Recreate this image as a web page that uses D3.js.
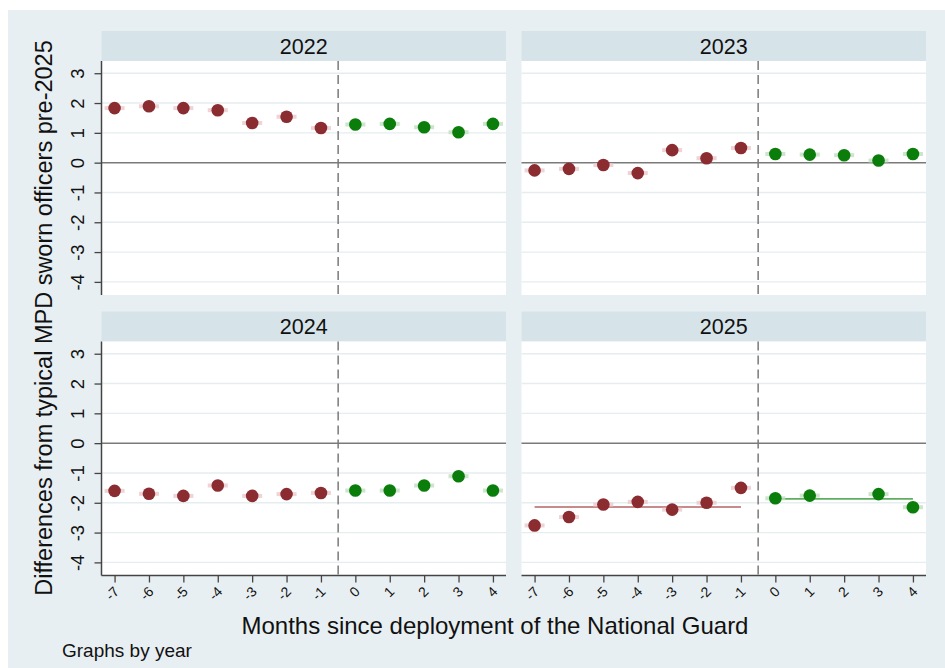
<!DOCTYPE html>
<html>
<head>
<meta charset="utf-8">
<script src="https://cdn.jsdelivr.net/npm/d3@7"></script>
<style>
  html, body { margin: 0; padding: 0; background: #ffffff; }
  svg { display: block; font-family: "Liberation Sans", Arial, Helvetica, sans-serif; }
</style>
</head>
<body>
<svg id="chart" width="945" height="668"></svg>
<script>
// Months relative to deployment of the National Guard
const months = [-7, -6, -5, -4, -3, -2, -1, 0, 1, 2, 3, 4];
const years = ["2022", "2023", "2024", "2025"];

// Differences from typical MPD sworn officers pre-2025, by year (null = no observation)
const values2022 = [1.83, 1.89, 1.83, 1.76, 1.33, 1.54, 1.16, 1.28, 1.30, 1.19, 1.02, 1.30];
const values2023 = [-0.26, -0.21, -0.08, -0.35, 0.42, 0.15, 0.49, 0.29, 0.27, 0.25, 0.07, 0.29];
const values2024 = [-1.60, -1.70, -1.77, -1.42, -1.77, -1.71, -1.67, -1.59, -1.59, -1.42, -1.11, -1.59];
const values2025 = [-2.76, -2.48, -2.06, -1.97, -2.23, -2.00, -1.50, -1.85, -1.76, null, -1.71, -2.15];
const seriesByYear = [values2022, values2023, values2024, values2025];

const yTicks = [3, 2, 1, 0, -1, -2, -3, -4];
const yTickLabels = ["3", "2", "1", "0", "-1", "-2", "-3", "-4"];
const xTickLabels = ["-7", "-6", "-5", "-4", "-3", "-2", "-1", "0", "1", "2", "3", "4"];
// Only the latest year shows the pre/post period averages
const meanLineYears = ["2025"];

const preColor = "#8b2c31";
const postColor = "#0b7d0b";
const fontFam = "Liberation Sans, Arial, Helvetica, sans-serif";

const svg = d3.select("#chart");

// Outer graph region
svg.append("rect").attr("x", 8).attr("y", 10).attr("width", 937).attr("height", 658)
  .attr("fill", "#e8eff2");

const panelW = 404.5, plotH = 234, stripH = 30;
const panelX = [101.5, 521.5];
const stripY = [31, 311.5];

const x = d3.scaleLinear().domain([-7.38, 4.38]).range([0, panelW]);
const y = d3.scaleLinear().domain([-4.44, 3.41]).range([plotH, 0]);

years.forEach((yr, i) => {
  const col = i % 2, row = Math.floor(i / 2);
  const left = panelX[col];
  const top = stripY[row];
  const g = svg.append("g").attr("transform", `translate(${left},${top})`);

  // strip header
  g.append("rect").attr("x", 0).attr("y", 0).attr("width", panelW).attr("height", stripH)
    .attr("fill", "#d6e3e9");
  g.append("text").attr("x", panelW / 2).attr("y", stripH / 2 + 7.5)
    .attr("text-anchor", "middle").attr("font-size", 21.5).attr("fill", "#111")
    .text(yr);

  const p = g.append("g").attr("transform", `translate(0,${stripH})`);
  p.append("rect").attr("width", panelW).attr("height", plotH).attr("fill", "#ffffff");

  // horizontal grid
  p.selectAll("line.grid").data(yTicks.filter(t => t !== 0)).join("line")
    .attr("class", "grid")
    .attr("x1", 0).attr("x2", panelW)
    .attr("y1", d => y(d)).attr("y2", d => y(d))
    .attr("stroke", "#e6edf0").attr("stroke-width", 1.4);

  // zero reference line
  p.append("line").attr("x1", 0).attr("x2", panelW)
    .attr("y1", y(0)).attr("y2", y(0))
    .attr("stroke", "#7a7a7a").attr("stroke-width", 1.5);

  // deployment marker
  p.append("line").attr("x1", x(-0.5)).attr("x2", x(-0.5))
    .attr("y1", 0).attr("y2", plotH)
    .attr("stroke", "#7a7a7a").attr("stroke-width", 1.5)
    .attr("stroke-dasharray", "9,5");

  const pts = months.map((m, j) => ({ m, v: seriesByYear[i][j] })).filter(d => d.v !== null);

  // period averages
  if (meanLineYears.includes(yr)) {
    const pre = pts.filter(d => d.m < 0), post = pts.filter(d => d.m >= 0);
    const segs = [
      { data: pre, c: "#c98a8d" },
      { data: post, c: "#5fae5f" }
    ];
    segs.forEach(s => {
      const mean = d3.mean(s.data, d => d.v);
      p.append("line")
        .attr("x1", x(d3.min(s.data, d => d.m))).attr("x2", x(d3.max(s.data, d => d.m)))
        .attr("y1", y(mean)).attr("y2", y(mean))
        .attr("stroke", s.c).attr("stroke-width", 1.8);
    });
  }

  // faint halos behind the markers
  p.selectAll("line.halo").data(pts).join("line")
    .attr("class", "halo")
    .attr("x1", d => x(d.m) - 10).attr("x2", d => x(d.m) + 10)
    .attr("y1", d => y(d.v)).attr("y2", d => y(d.v))
    .attr("stroke", d => d.m < 0 ? "#ecc9cc" : "#bfe0bf")
    .attr("stroke-width", 4).attr("opacity", 0.8);

  p.selectAll("circle.pt").data(pts).join("circle")
    .attr("class", "pt")
    .attr("cx", d => x(d.m)).attr("cy", d => y(d.v)).attr("r", 6.3)
    .attr("fill", d => d.m < 0 ? preColor : postColor);

  // y axis on left column
  if (col === 0) {
    const ya = d3.axisLeft(y).tickValues(yTicks).tickSize(7).tickPadding(0)
      .tickFormat((d, k) => yTickLabels[k]);
    const ag = p.append("g").call(ya);
    ag.attr("font-family", fontFam);
    ag.select(".domain").attr("stroke", "#444").attr("stroke-width", 1.5)
      .attr("d", `M0,0V${plotH}`);
    ag.selectAll(".tick line").attr("stroke", "#444").attr("stroke-width", 1.3);
    ag.selectAll(".tick text")
      .attr("font-size", 18.5).attr("fill", "#111")
      .attr("x", 0).attr("y", 0).attr("dy", "0.35em")
      .attr("text-anchor", "middle")
      .attr("transform", "translate(-24,0) rotate(-90)");
  }

  // x axis on bottom row
  if (row === 1) {
    const xa = d3.axisBottom(x).tickValues(months).tickSize(7).tickFormat((d, k) => xTickLabels[k]);
    const ag = p.append("g").attr("transform", `translate(0,${plotH})`).call(xa);
    ag.attr("font-family", fontFam);
    ag.select(".domain").attr("stroke", "#444").attr("stroke-width", 1.5)
      .attr("d", `M0,0H${panelW}`);
    ag.selectAll(".tick line").attr("stroke", "#444").attr("stroke-width", 1.3);
    ag.selectAll(".tick text")
      .attr("font-size", 14).attr("fill", "#111")
      .attr("y", 0).attr("dy", null)
      .attr("text-anchor", "end")
      .attr("transform", "translate(5,17) rotate(-45)");
  }
});

// axis titles
svg.append("text")
  .attr("transform", "translate(52,318) rotate(-90)")
  .attr("text-anchor", "middle").attr("font-size", 23.5).attr("fill", "#111")
  .text("Differences from typical MPD sworn officers pre-2025");

svg.append("text")
  .attr("x", 495).attr("y", 634)
  .attr("text-anchor", "middle").attr("font-size", 24).attr("fill", "#111")
  .text("Months since deployment of the National Guard");

svg.append("text")
  .attr("x", 62).attr("y", 657)
  .attr("font-size", 19).attr("fill", "#111")
  .text("Graphs by year");
</script>
</body>
</html>
